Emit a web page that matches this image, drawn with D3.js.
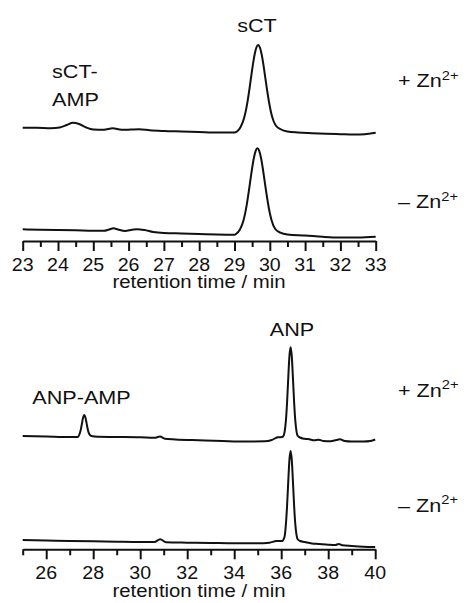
<!DOCTYPE html>
<html lang="en">
<head>
    <meta charset="UTF-8">
    <title>HPLC traces</title>
    <style>
        body, html {
            margin: 0;
            padding: 0;
            background-color: #fff;
        }
        svg text {
            font-family: "Liberation Sans", Arial, sans-serif;
            fill: #111;
        }
    </style>
</head>
<body>
    <svg id="svg" width="467" height="603"></svg>
    <script src="https://cdn.jsdelivr.net/npm/d3@7"></script>
    <script>
        // tick values
        const sctMajor = [23, 24, 25, 26, 27, 28, 29, 30, 31, 32, 33]
        const sctMinor = [23.5, 24.5, 25.5, 26.5, 27.5, 28.5, 29.5, 30.5, 31.5, 32.5]
        const anpMajor = [26, 28, 30, 32, 34, 36, 38, 40]
        const anpMinor = [25, 27, 29, 31, 33, 35, 37, 39]

        // [retention time (min), signal (a.u.)]
        const sctPlusZn = [
            [23.00, 12.3], [23.40, 12.2], [23.80, 11.8], [24.05, 12.5], [24.25, 15.0], [24.42, 17.2],
            [24.60, 16.0], [24.80, 12.5], [25.00, 10.5], [25.30, 10.2], [25.55, 11.7], [25.80, 10.2],
            [26.05, 10.4], [26.30, 10.7], [26.60, 9.7], [27.00, 9.0], [27.50, 8.5], [28.00, 8.0],
            [28.50, 7.5], [29.00, 7.5], [29.07, 8.5], [29.17, 12.8], [29.27, 21.7], [29.32, 29.1],
            [29.37, 38.7], [29.42, 50.2], [29.47, 62.8], [29.52, 75.1], [29.57, 85.5], [29.62, 92.5],
            [29.67, 95.0], [29.72, 92.5], [29.77, 85.5], [29.82, 75.1], [29.87, 62.8], [29.92, 50.6],
            [29.97, 39.5], [30.02, 30.0], [30.07, 22.8], [30.17, 14.5], [30.32, 10.5], [30.50, 8.5],
            [30.80, 7.5], [31.20, 6.8], [31.60, 6.2], [32.00, 5.8], [32.40, 5.5], [32.70, 5.7],
            [32.85, 6.5], [33.00, 7.2]
        ]
        const sctMinusZn = [
            [23.00, 10.7], [23.50, 10.2], [24.00, 10.0], [24.50, 9.7], [25.00, 9.2], [25.30, 9.2],
            [25.45, 10.5], [25.57, 11.7], [25.70, 10.5], [25.90, 9.0], [26.10, 10.2], [26.25, 10.8],
            [26.45, 10.0], [26.70, 8.0], [27.00, 7.0], [27.50, 6.5], [28.00, 6.0], [28.50, 5.5],
            [29.00, 5.3], [29.05, 6.3], [29.15, 10.3], [29.25, 19.0], [29.30, 26.4], [29.35, 35.9],
            [29.40, 47.4], [29.45, 59.8], [29.50, 72.0], [29.55, 82.3], [29.60, 89.2], [29.65, 91.7],
            [29.70, 89.2], [29.75, 82.3], [29.80, 72.0], [29.85, 59.8], [29.90, 47.6], [29.95, 36.5],
            [30.00, 27.0], [30.05, 19.8], [30.15, 11.2], [30.30, 7.3], [30.50, 5.5], [31.00, 4.5],
            [31.50, 3.2], [32.00, 2.5], [32.50, 2.5], [33.00, 3.2]
        ]
        const anpPlusZn = [
            [25.00, 7.0], [26.00, 6.5], [27.00, 6.0], [27.35, 6.0], [27.42, 9.0], [27.47, 13.1],
            [27.52, 19.3], [27.57, 25.4], [27.62, 28.0], [27.67, 25.4], [27.72, 19.6], [27.77, 13.5],
            [27.82, 9.5], [27.92, 7.0], [28.20, 6.2], [29.00, 6.0], [30.00, 5.7], [30.60, 5.2],
            [30.84, 6.4], [31.05, 4.2], [31.50, 3.5], [32.50, 2.7], [33.50, 2.0], [34.50, 1.5],
            [35.30, 1.7], [35.60, 3.0], [35.85, 5.7], [36.05, 6.0], [36.10, 7.2], [36.15, 11.9],
            [36.20, 22.4], [36.25, 40.8], [36.30, 65.0], [36.35, 86.8], [36.40, 95.7], [36.45, 86.8],
            [36.50, 65.0], [36.55, 40.8], [36.60, 22.4], [36.65, 11.9], [36.70, 7.2], [36.80, 5.5],
            [37.00, 4.2], [37.20, 3.7], [37.40, 2.7], [37.60, 3.2], [37.80, 2.0], [38.10, 1.7],
            [38.35, 3.0], [38.50, 3.7], [38.70, 2.0], [39.00, 1.5], [39.50, 1.5], [39.80, 2.0],
            [40.00, 3.5]
        ]
        const anpMinusZn = [
            [25.00, 8.0], [26.00, 7.5], [27.00, 7.0], [28.00, 6.7], [29.00, 6.3], [30.00, 6.0],
            [30.60, 6.0], [30.85, 8.7], [31.10, 5.7], [32.00, 5.3], [33.00, 5.0], [34.00, 4.7],
            [35.00, 4.7], [35.50, 5.3], [35.80, 7.0], [36.05, 7.0], [36.10, 8.7], [36.15, 12.2],
            [36.20, 23.8], [36.25, 42.2], [36.30, 66.4], [36.35, 88.1], [36.40, 97.0], [36.45, 88.1],
            [36.50, 66.4], [36.55, 42.2], [36.60, 23.8], [36.65, 13.4], [36.70, 8.7], [36.80, 7.0],
            [37.00, 6.0], [37.30, 4.5], [37.60, 4.0], [38.00, 3.3], [38.30, 3.0], [38.45, 4.0],
            [38.60, 2.7], [39.00, 2.0], [39.50, 1.3], [40.00, 1.0]
        ]

        const svg = d3.select('#svg')

        // text helper, stretched a bit sideways like the original figure
        function label(x, y, parts, opts = {}) {
            const size = opts.size || 18
            const sx = opts.sx || 1.2
            const t = svg.append('text')
                .attr('transform', `translate(${x},${y}) scale(${sx},1)`)
                .attr('text-anchor', opts.anchor || 'start')
                .attr('font-size', size + 'px')
            parts.forEach(p => {
                if (p.sup) {
                    t.append('tspan').attr('font-size', (size * 0.68) + 'px').attr('dy', -size * 0.42).text(p.t)
                } else {
                    t.append('tspan').text(p.t)
                }
            })
            return t
        }

        function panel(cfg) {
            const x = d3.scaleLinear().domain(cfg.domain).range([22.7, cfg.right])
            const y = d3.scaleLinear().domain([0, 220]).range([cfg.base, cfg.base - 220])

            const line = off => d3.line()
                .x(d => x(d[0]))
                .y(d => y(d[1] + off))
                .curve(d3.curveMonotoneX)

            cfg.traces.forEach(tr => {
                svg.append('path')
                    .datum(tr.data)
                    .attr('d', line(tr.offset))
                    .attr('fill', 'none')
                    .attr('stroke', '#111')
                    .attr('stroke-width', 2)
                    .attr('stroke-linejoin', 'round')
            })

            // minor ticks
            svg.append('g')
                .attr('transform', `translate(0, ${cfg.axisY})`)
                .call(d3.axisBottom(x).tickValues(cfg.minor).tickSize(6).tickFormat(''))
                .call(g => g.select('.domain').remove())
                .selectAll('line').attr('stroke', '#111').attr('stroke-width', 2)

            // major ticks + labels
            const ax = svg.append('g')
                .attr('transform', `translate(0, ${cfg.axisY})`)
                .call(d3.axisBottom(x).tickValues(cfg.major).tickSize(10).tickSizeOuter(0).tickFormat(d3.format('d')))
            ax.select('.domain').attr('stroke', '#111').attr('stroke-width', 2)
            ax.selectAll('line').attr('stroke', '#111').attr('stroke-width', 2)
            ax.selectAll('text').remove()
            cfg.major.forEach(v => label(x(v), cfg.axisY + 29.8, [{ t: String(v) }], { size: 17.5, sx: 1.12, anchor: 'middle' }))

            label(199, cfg.axisY + 47.2, [{ t: 'retention time / min' }], { size: 18.5, sx: 1.1, anchor: 'middle' })
        }

        panel({
            domain: [23, 33], right: 375.7, base: 240, axisY: 241,
            major: sctMajor, minor: sctMinor,
            traces: [{ data: sctPlusZn, offset: 100 }, { data: sctMinusZn, offset: 0 }]
        })
        panel({
            domain: [25, 40], right: 375.2, base: 548, axisY: 549.3,
            major: anpMajor, minor: anpMinor,
            traces: [{ data: anpPlusZn, offset: 105 }, { data: anpMinusZn, offset: 0 }]
        })

        // peak labels
        label(257, 32.3, [{ t: 'sCT' }], { anchor: 'middle' })
        label(52, 78.3, [{ t: 'sCT-' }])
        label(52, 106, [{ t: 'AMP' }])
        label(398, 87.3, [{ t: '+ Zn' }, { t: '2+', sup: true }])
        label(398, 208.3, [{ t: '\u2013 Zn' }, { t: '2+', sup: true }])

        label(292, 336, [{ t: 'ANP' }], { anchor: 'middle' })
        label(32.3, 404, [{ t: 'ANP-AMP' }])
        label(398, 396.7, [{ t: '+ Zn' }, { t: '2+', sup: true }])
        label(398, 511.7, [{ t: '\u2013 Zn' }, { t: '2+', sup: true }])
    </script>
</body>
</html>
